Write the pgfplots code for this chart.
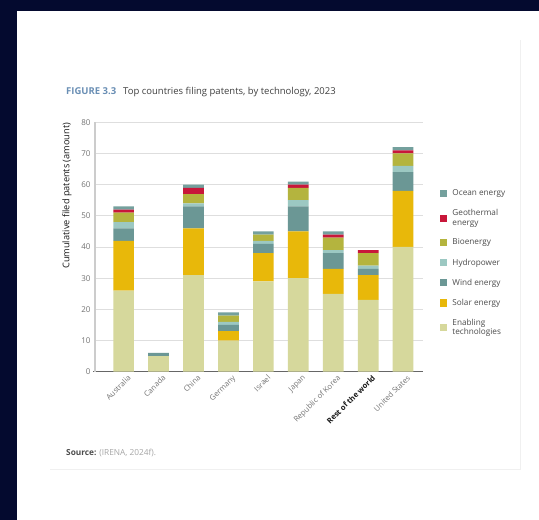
\documentclass[border=0pt]{standalone}
\usepackage{pgfplots}
\usepackage{pgfplotstable}
\pgfplotsset{compat=1.18}
\usepackage{fontspec}
\setmainfont{Open Sans}

\definecolor{navy}{HTML}{040A2F}
\definecolor{cEnab}{HTML}{D6D89C}
\definecolor{cSolar}{HTML}{E8B80A}
\definecolor{cWind}{HTML}{6B9795}
\definecolor{cHydro}{HTML}{9CC8C2}
\definecolor{cBio}{HTML}{B4B43E}
\definecolor{cGeo}{HTML}{C8173A}
\definecolor{cOcean}{HTML}{74A09D}
\definecolor{figblue}{HTML}{6A8FB5}

\pgfplotstableread{
x enab solar wind hydro bio geo ocean
0 26 16 4 2 3 1 1
1 5 0 1 0 0 0 0
2 31 15 7 1 3 2 1
3 10 3 2 1 2 0 1
4 29 9 3 1 2 0 1
5 30 15 8 2 4 1 1
6 25 8 5 1 4 1 1
7 23 8 2 1 4 1 0
8 40 18 6 2 4 1 1
}\patents

\begin{document}
\begin{tikzpicture}
% background and white page
\fill[navy] (0bp,0bp) rectangle (539bp,520bp);
\fill[white] (17bp,0bp) rectangle (539bp,509bp);
\draw[gray!12, line width=0.6bp] (50bp,51bp) -- (520bp,51bp) -- (520bp,480bp);

% title
\node[anchor=west, inner sep=0pt] at (66bp,428bp)
  {\fontsize{9.5bp}{11bp}\selectfont\textcolor{figblue}{\textbf{FIGURE 3.3}}\hspace{7bp}\textcolor{black!75}{Top countries filing patents, by technology, 2023}};

% source
\node[anchor=west, inner sep=0pt] at (66bp,67bp)
  {\fontsize{8.3bp}{10bp}\selectfont\textcolor{black!70}{\textbf{Source:}} \textcolor{black!35}{(IRENA, 2024f).}};

\begin{axis}[
    at={(95bp,148.3bp)}, anchor=south west,
    scale only axis,
    width=328bp, height=249.4bp,
    ybar stacked,
    bar width=20.7bp,
    xmin=-0.82, xmax=8.57,
    ymin=0, ymax=80,
    ytick={0,10,...,80},
    xtick=data,
    xticklabels={Australia,Canada,China,Germany,Israel,Japan,Republic of Korea,\textcolor{black!90}{\textbf{Rest of the world}},United States},
    axis x line*=bottom,
    axis y line*=left,
    x axis line style={draw=black!60, line width=0.8bp, shorten <=-2bp},
    y axis line style={draw=black!20, line width=2bp},
    major tick length=0pt,
    ymajorgrids,
    grid style={draw=black!13, line width=0.8bp},
    /pgf/number format/assume math mode=true,
    yticklabel style={font=\fontsize{8bp}{9bp}\selectfont, text=black!55, xshift=-1bp},
    xticklabel style={font=\fontsize{7.6bp}{8bp}\selectfont, text=black!55, rotate=45, anchor=north east, xshift=4bp, yshift=-1bp},
    ylabel={Cumulative filed patents (amount)},
    every axis y label/.style={at={(rel axis cs:0,1)}, xshift=-28bp, yshift=3bp, rotate=90, anchor=east, font=\fontsize{9.2bp}{10bp}\selectfont, text=black!90},
    legend image code/.code={\fill[#1] (0bp,-3.6bp) rectangle (7.2bp,3.6bp);},
    legend style={at={(1.052,0.738)}, anchor=north west, draw=none, fill=none, inner sep=0pt,
                  font=\fontsize{8.2bp}{9.2bp}\selectfont, text=black!70, row sep=8.4bp,
                  cells={align=left}, nodes={inner xsep=5bp}},
    legend cell align=left,
    reverse legend,
]
\addplot[fill=cEnab, draw=none] table[x=x, y=enab] {\patents};
\addplot[fill=cSolar, draw=none] table[x=x, y=solar] {\patents};
\addplot[fill=cWind, draw=none] table[x=x, y=wind] {\patents};
\addplot[fill=cHydro, draw=none] table[x=x, y=hydro] {\patents};
\addplot[fill=cBio, draw=none] table[x=x, y=bio] {\patents};
\addplot[fill=cGeo, draw=none] table[x=x, y=geo] {\patents};
\addplot[fill=cOcean, draw=none] table[x=x, y=ocean] {\patents};
\legend{Enabling\\technologies, Solar energy, Wind energy, Hydropower, Bioenergy, Geothermal\\energy, Ocean energy}
\end{axis}
\end{tikzpicture}
\end{document}
